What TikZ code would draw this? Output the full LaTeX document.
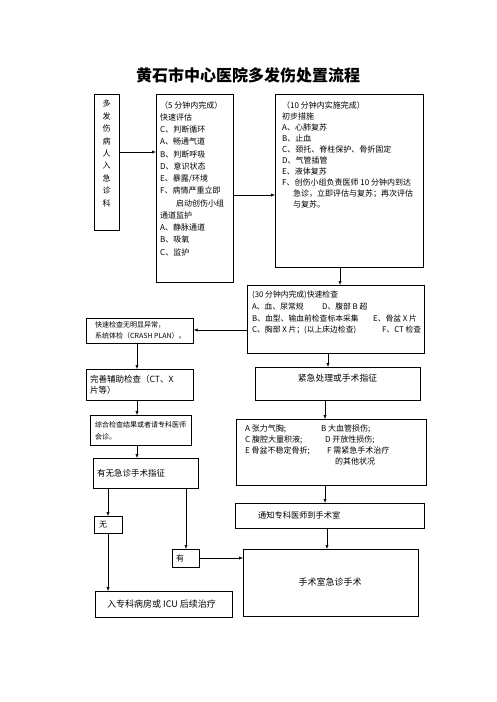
\documentclass[tikz,border=0pt]{standalone}
\usepackage{fontspec}
\setmainfont{Noto Sans CJK SC}
\usetikzlibrary{arrows.meta,calc}
\begin{document}
\begin{tikzpicture}[x=1pt,y=-1pt,
 box/.style={draw=black,line width=0.6pt,inner sep=0pt,anchor=north west},
 txt/.style={inner sep=0pt,align=left,anchor=north west},
 arr/.style={draw=black,line width=0.6pt,-{Latex[length=4pt,width=3.2pt]}},
 fs/.style={font=\fontsize{#1}{12}\selectfont}]
\useasboundingbox (0,0) rectangle (496,702);
\fill[white] (0,0) rectangle (496,702);

% title
\node[inner sep=0pt,font=\fontsize{16}{18}\selectfont\bfseries] (title) at (248,75) {黄石市中心医院多发伤处置流程};

% boxes
\node[box,minimum width=25pt,minimum height=136pt] (b1) at (94,94) {};
\node[box,minimum width=77pt,minimum height=188pt] (b2) at (156,94) {};
\node[box,minimum width=148pt,minimum height=173pt] (b3) at (275,94) {};
\node[box,minimum width=177pt,minimum height=68pt] (b4) at (247,285) {};
\node[box,minimum width=107pt,minimum height=25pt] (b5) at (86,318) {};
\node[box,minimum width=107pt,minimum height=31pt] (b6) at (86,369) {};
\node[box,minimum width=101pt,minimum height=30pt] (b9) at (90,415) {};
\node[box,minimum width=105pt,minimum height=30pt] (b10) at (93,458) {};
\node[box,minimum width=28pt,minimum height=17pt] (bno) at (94,516) {};
\node[box,minimum width=27pt,minimum height=18pt] (byes) at (172,549) {};
\node[box,minimum width=137pt,minimum height=26pt] (bicu) at (95,591) {};
\node[box,minimum width=165pt,minimum height=33pt] (b7) at (255,367) {};
\node[box,minimum width=190pt,minimum height=66pt] (b8) at (236,419) {};
\node[box,minimum width=189pt,minimum height=25pt] (b11) at (235,503) {};
\node[box,minimum width=175pt,minimum height=67pt] (bop) at (243,549) {};

% texts
\node[inner sep=0pt,align=center,anchor=north,font=\fontsize{8}{12.4}\selectfont] (t1) at (106.5,100)
 {多\\发\\伤\\病\\人\\入\\急\\诊\\科};
\node[txt,font=\fontsize{8}{12.25}\selectfont] (t2) at (160,101)
 {（5 分钟内完成）\\快速评估\\C、判断循环\\A、畅通气道\\B、判断呼吸\\D、意识状态\\E、暴露/环境\\F、病情严重立即\\\hspace{16pt}启动创伤小组\\通道监护\\A、静脉通道\\B、吸氧\\C、监护};
\node[txt,font=\fontsize{8}{11}\selectfont] (t3) at (282,101)
 {（10 分钟内实施完成）\\初步措施\\A、心肺复苏\\B、止血\\C、颈托、脊柱保护、骨折固定\\D、气管插管\\E、液体复苏\\F、创伤小组负责医师 10 分钟内到达\\\hspace{11pt}急诊，立即评估与复苏；再次评估\\\hspace{11pt}与复苏。};
\node[txt,font=\fontsize{7.8}{11.6}\selectfont] (t4) at (252,291)
 {(30 分钟内完成)快速检查\\\makebox[70pt][l]{A、血、尿常规}D、腹部 B 超\\\makebox[121pt][l]{B、血型、输血前检查标本采集}E、骨盆 X 片\\\makebox[130pt][l]{C、胸部 X 片；(以上床边检查)}F、CT 检查};
\node[txt,font=\fontsize{7}{11}\selectfont] (t5) at (95,321.5)
 {快速检查无明显异常，\\系统体检（CRASH PLAN）。};
\node[txt,font=\fontsize{8.5}{11}\selectfont] (t6) at (90,375.5)
 {完善辅助检查（CT、X\\片等）};
\node[txt,font=\fontsize{7}{12}\selectfont] (t9) at (95,421.5)
 {综合检查结果或者请专科医师\\会诊。};
\node[inner sep=0pt,anchor=west,font=\fontsize{8.5}{11}\selectfont] (t10) at (97,473) {有无急诊手术指征};
\node[inner sep=0pt,anchor=west,font=\fontsize{8}{10}\selectfont] (tno) at (99,524.5) {无};
\node[inner sep=0pt,anchor=west,font=\fontsize{8}{10}\selectfont] (tyes) at (176,558) {有};
\node[inner sep=0pt,anchor=west,font=\fontsize{9}{11}\selectfont] (ticu) at (107,604) {入专科病房或 ICU 后续治疗};
\node[inner sep=0pt,font=\fontsize{8.8}{11}\selectfont] (t7) at (337.5,378) {紧急处理或手术指征};
\node[txt,font=\fontsize{8}{11}\selectfont] (t8) at (245,425)
 {\makebox[76pt][l]{A 张力气胸;}B 大血管损伤;\\\makebox[80pt][l]{C 腹腔大量积液;}D 开放性损伤;\\\makebox[82pt][l]{E 骨盆不稳定骨折;}F 需紧急手术治疗\\\hspace{90pt}的其他状况};
\node[inner sep=0pt,anchor=west,font=\fontsize{8.2}{10}\selectfont] (t11) at (258,515.5) {通知专科医师到手术室};
\node[inner sep=0pt,font=\fontsize{9}{11}\selectfont] (top) at (330,582) {手术室急诊手术};

% helper coordinates
\coordinate (h152) at (0,152);
\coordinate (h195) at (0,195);
\coordinate (h330) at (0,330);
\coordinate (h558) at (0,558);
\coordinate (v340) at (340,0);
\coordinate (v137) at (137,0);
\coordinate (v328) at (328,0);
\coordinate (v325) at (325,0);
\coordinate (v327) at (327,0);
\coordinate (v108) at (108,0);
\coordinate (v186) at (186,0);

% connectors
\draw[arr] (b1.east|-h152) -- (b2.west|-h152);
\draw[arr] (b2.east|-h195) -- (b3.west|-h195);
\draw[arr] (b3.south-|v340) -- (b4.north-|v340);
\draw[arr] (b4.west|-h330) -- (b5.east|-h330);
\draw[arr] (b5.south-|v137) -- (b6.north-|v137);
\draw[arr] (b6.south-|v137) -- (b9.north-|v137);
\draw[arr] (b9.south-|v137) -- (b10.north-|v137);
\draw[arr] (b4.south-|v328) -- (b7.north-|v328);
\draw[arr] (b7.south-|v325) -- (b8.north-|v325);
\draw[arr] (b8.south-|v325) -- (b11.north-|v325);
\draw[arr] (b11.south-|v327) -- (bop.north-|v327);
\draw[arr] (b10.south-|v108) -- (bno.north-|v108);
\draw[arr] (b10.south-|v186) -- (byes.north-|v186);
\draw[arr] (bno.south-|v108) -- (bicu.north-|v108);
\draw[arr] (byes.east|-h558) -- (bop.west|-h558);
\end{tikzpicture}
\end{document}
